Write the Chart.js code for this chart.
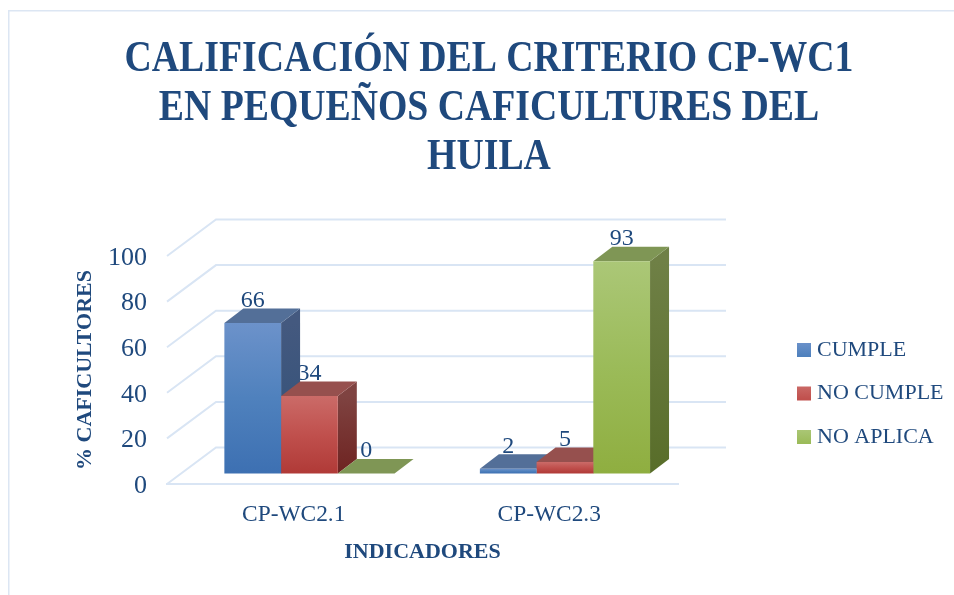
<!DOCTYPE html>
<html><head><meta charset="utf-8">
<style>html,body{margin:0;padding:0;background:#fff}canvas{display:block}</style>
<script src="https://cdn.jsdelivr.net/npm/chart.js@4"></script>
</head><body><canvas id="c" width="954" height="595"></canvas>
<script>
const categories = ['CP-WC2.1', 'CP-WC2.3'];
const cumple = [66, 2];
const noCumple = [34, 5];
const noAplica = [0, 93];
const seriesNames = ['CUMPLE', 'NO CUMPLE', 'NO APLICA'];
const titleLines = ['CALIFICACIÓN DEL CRITERIO CP-WC1', 'EN PEQUEÑOS CAFICULTURES DEL', 'HUILA'];

const FONT = '"Liberation Serif", serif';
const INK = '#1F497D';
const GRID = '#D9E5F4';
const FRONT = [['#6C92CA', '#4F81BD', '#3D70B2'], ['#CB6B68', '#C0504D', '#B03A37'], ['#ABC777', '#9BBB59', '#8FAE40']];
const TOP = ['#536F98', '#96504E', '#7F9655'];
const SIDE = [['#44597F', '#2F5078'], ['#7F4341', '#6E2321'], ['#6F8046', '#586D29']];
const SWATCH_TOP = [342, 385, 429];
const WALL = {dx: 49, dy: -36.5};
const BAR = {dx: 14.7, dy: -10.6, depthX: 19, depthY: -14.5};
const TITLE_CENTER = 489, TITLE_SQUEEZE = 0.858;

function frontFill(i) {
  return c => {
    const ch = c.chart;
    if (!ch.chartArea || !ch.scales.y) return FRONT[i][1];
    const y = ch.scales.y;
    const g = ch.ctx.createLinearGradient(0, y.getPixelForValue(c.raw), 0, y.getPixelForValue(0));
    g.addColorStop(0, FRONT[i][0]);
    g.addColorStop(0.5, FRONT[i][1]);
    g.addColorStop(1, FRONT[i][2]);
    return g;
  };
}
function poly(ctx, pts, fill) {
  ctx.beginPath();
  pts.forEach((p, k) => k ? ctx.lineTo(p[0], p[1]) : ctx.moveTo(p[0], p[1]));
  ctx.closePath();
  ctx.fillStyle = fill;
  ctx.fill();
}

const scene = {
  id: 'scene',
  beforeDraw(ch) {
    const c = ch.ctx;
    c.save();
    c.fillStyle = '#DCE6F3';
    c.fillRect(8, 10, 946, 1.5);
    c.fillRect(8, 10, 1.5, 585);
    c.restore();
  },
  afterLayout(ch) {
    const t = ch.titleBlock;
    t.left = 2 * TITLE_CENTER - 954; t.right = 954;
    if (!t._squeezed) {
      t._squeezed = true;
      const draw = t.draw;
      t.draw = function () {
        const c = this.ctx;
        c.save();
        c.translate(TITLE_CENTER, 0);
        c.scale(TITLE_SQUEEZE, 1);
        c.translate(-TITLE_CENTER, 0);
        draw.call(this);
        c.restore();
      };
    }
    const l = ch.legend;
    const pad = l.options.labels.padding;
    l.left = 802 - pad; l.right = l.left + l.width;
    l.top = 317.5; l.bottom = l.top + l.height;
  },
  beforeDatasetsDraw(ch) {
    const c = ch.ctx, y = ch.scales.y, a = ch.chartArea;
    c.save();
    c.strokeStyle = GRID; c.lineWidth = 2;
    y.ticks.forEach(t => {
      const p = y.getPixelForValue(t.value);
      c.beginPath();
      c.moveTo(a.left, p);
      c.lineTo(a.left + WALL.dx, p + WALL.dy);
      c.lineTo(a.right + WALL.dx - 1, p + WALL.dy);
      c.stroke();
    });
    c.restore();
    c.save();
    c.translate(BAR.dx, BAR.dy);
    c.fillStyle = INK;
    c.font = '24px ' + FONT;
    c.textAlign = 'center'; c.textBaseline = 'middle';
    ch.data.datasets.forEach((d, i) => ch.getDatasetMeta(i).data.forEach((b, j) => {
      c.fillText(String(d.data[j]), b.x, b.y - 22.5);
    }));
    ch.data.datasets.forEach((d, i) => ch.getDatasetMeta(i).data.forEach(b => {
      const L = b.x - b.width / 2, R = b.x + b.width / 2, T = b.y, B = b.base, X = BAR.depthX, Y = BAR.depthY;
      const g = c.createLinearGradient(0, T, 0, B);
      g.addColorStop(0, SIDE[i][0]); g.addColorStop(1, SIDE[i][1]);
      poly(c, [[R, T], [R + X, T + Y], [R + X, B + Y], [R, B]], g);
      poly(c, [[L, T], [R, T], [R + X, T + Y], [L + X, T + Y]], TOP[i]);
    }));
  },
  afterDatasetsDraw(ch) { ch.ctx.restore(); }
};

new Chart(document.getElementById('c'), {
  type: 'bar',
  data: {
    labels: categories,
    datasets: [
      {label: seriesNames[0], data: cumple, backgroundColor: frontFill(0)},
      {label: seriesNames[1], data: noCumple, backgroundColor: frontFill(1)},
      {label: seriesNames[2], data: noAplica, backgroundColor: frontFill(2)}
    ]
  },
  plugins: [scene],
  options: {
    responsive: false, animation: false,
    layout: {padding: {top: 35, right: 276, bottom: 0, left: 0}},
    datasets: {bar: {barPercentage: 1, categoryPercentage: 0.666, borderWidth: 0, clip: false}},
    plugins: {
      title: {
        display: true, text: titleLines, color: INK,
        font: {family: FONT, size: 44, weight: 'bold', lineHeight: 49 / 44},
        padding: {top: 0, bottom: 74}
      },
      tooltip: {enabled: false},
      legend: {
        position: 'chartArea', align: 'start',
        labels: {
          color: INK, font: {family: FONT, size: 22, lineHeight: 1.1},
          boxWidth: 4, boxHeight: 4, padding: 21.5,
          generateLabels(ch) {
            return seriesNames.map((n, i) => {
              const g = ch.ctx.createLinearGradient(0, SWATCH_TOP[i], 0, SWATCH_TOP[i] + 14);
              g.addColorStop(0, FRONT[i][0]); g.addColorStop(1, FRONT[i][1]);
              return {text: n, fillStyle: g, strokeStyle: g, lineWidth: 10, lineJoin: 'miter', hidden: false, datasetIndex: i, fontColor: INK};
            });
          }
        }
      }
    },
    scales: {
      x: {
        afterFit(s) { s.height = 111; },
        grid: {display: false},
        border: {display: true, color: GRID, width: 2},
        ticks: {color: INK, font: {family: FONT, size: 23.4}, padding: 9, maxRotation: 0, labelOffset: -1},
        title: {display: true, text: 'INDICADORES', color: INK, font: {family: FONT, size: 22, weight: 'bold'}, padding: {top: 0, bottom: 29}}
      },
      y: {
        min: 0, max: 100,
        afterFit(s) { s.width = 167; },
        grid: {display: false, drawTicks: false},
        border: {display: false},
        ticks: {stepSize: 20, color: INK, font: {family: FONT, size: 26}, padding: 20, labelOffset: 2},
        title: {display: true, text: '% CAFICULTORES', color: INK, font: {family: FONT, size: 22, weight: 'bold'}, padding: {top: 72, bottom: 0}}
      }
    }
  }
});
</script></body></html>
